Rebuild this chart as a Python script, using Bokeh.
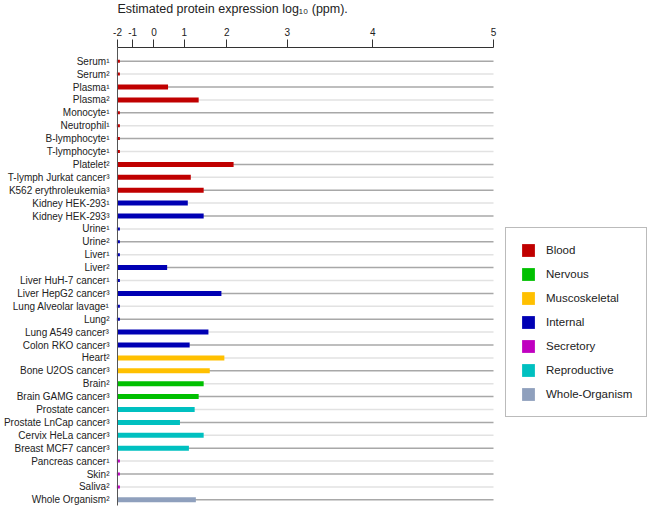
from bokeh.plotting import figure
from bokeh.models import Range1d, FixedTicker, Legend, LegendItem, ColumnDataSource, Label
from bokeh.embed import file_html
from bokeh.resources import INLINE

# ---------------- data ----------------
labels = ["Serum¹", "Serum²", "Plasma¹", "Plasma²", "Monocyte¹", "Neutrophil¹",
          "B-lymphocyte¹", "T-lymphocyte¹", "Platelet²", "T-lymph Jurkat cancer³",
          "K562 erythroleukemia³", "Kidney HEK-293¹", "Kidney HEK-293³", "Urine¹",
          "Urine²", "Liver¹", "Liver²", "Liver HuH-7 cancer¹", "Liver HepG2 cancer³",
          "Lung Alveolar lavage¹", "Lung²", "Lung A549 cancer³", "Colon RKO cancer³",
          "Heart²", "Bone U2OS cancer³", "Brain²", "Brain GAMG cancer³",
          "Prostate cancer¹", "Prostate LnCap cancer³", "Cervix HeLa cancer³",
          "Breast MCF7 cancer³", "Pancreas cancer¹", "Skin²", "Saliva²", "Whole Organism²"]

groups = ["Blood", "Blood", "Blood", "Blood", "Blood", "Blood", "Blood", "Blood", "Blood",
          "Blood", "Blood", "Internal", "Internal", "Internal", "Internal", "Internal",
          "Internal", "Internal", "Internal", "Internal", "Internal", "Internal", "Internal",
          "Muscoskeletal", "Muscoskeletal", "Nervous", "Nervous", "Reproductive",
          "Reproductive", "Reproductive", "Reproductive", "Secretory", "Secretory",
          "Secretory", "Whole-Organism"]

# log10(ppm); -2 = not detected (axis minimum)
values = [-2, -2, 0.51, 1.38, -2, -2, -2, -2, 2.13, 1.18, 1.50, 1.10, 1.50, -2, -2, -2,
          0.48, -2, 1.89, -2, -2, 1.61, 1.15, 1.95, 1.64, 1.50, 1.38, 1.28, 0.88, 1.50,
          1.13, -2, -2, -2, 1.31]

legend_groups = ["Blood", "Nervous", "Muscoskeletal", "Internal", "Secretory",
                 "Reproductive", "Whole-Organism"]
group_colors = ["#c00000", "#00c000", "#ffc000", "#0000b4", "#c000c0", "#00c0c0", "#8fa0bd"]

x_ticks = [-2, -1, 0, 1, 2, 3, 4, 5]
x_min, x_max = -2, 5

title_text = "Estimated protein expression log₁₀ (ppm)."


# the axis of the original is stretched: position grows like sqrt(2)**value
def tr(v):
    return 2.0 ** (v / 2.0)


FONT = "Liberation Sans"
W, H = 648, 508
n = len(labels)
rows = list(range(n))

# the frame covers the whole canvas; axes are pinned inside it.
# data area: x from 117 px (value -2) to 493 px (value 5); rows from 60.7 px, 12.9 px apart
x_lo, x_hi = tr(x_min), tr(x_max)
s = (x_hi - x_lo) / 376.0
row0, row_h = 60.7, 12.9
y_bottom = (H - row0) / row_h
y_top = -row0 / row_h
axis_y = (46.5 - row0) / row_h

p = figure(width=W, height=H, output_backend="svg", toolbar_location=None,
           x_range=Range1d(x_lo - 117 * s, x_hi + 155 * s), y_range=Range1d(y_bottom, y_top),
           x_axis_location="above",
           min_border_left=0, min_border_right=0, min_border_top=0, min_border_bottom=0)

p.xgrid.visible = False
p.ygrid.visible = False
p.outline_line_color = None
p.background_fill_color = "white"
p.border_fill_color = "white"

# top axis
xa = p.xaxis[0]
xa.fixed_location = axis_y
xa.ticker = FixedTicker(ticks=[tr(v) for v in x_ticks])
xa.major_label_overrides = {tr(v): str(v) for v in x_ticks}
xa.bounds = (x_lo, x_hi)
xa.major_tick_out = 8
xa.major_tick_in = 0
xa.minor_tick_line_color = None
xa.major_label_standoff = 3
xa.axis_line_color = "#333333"
xa.major_tick_line_color = "#333333"
xa.major_label_text_font = FONT
xa.major_label_text_font_size = "10px"
xa.major_label_text_color = "#222222"

# left axis (row labels)
ya = p.yaxis[0]
ya.fixed_location = x_lo
ya.bounds = (axis_y, y_bottom - 0.25)
ya.ticker = FixedTicker(ticks=rows)
ya.major_label_overrides = {i: labels[i] for i in rows}
ya.major_tick_line_color = None
ya.minor_tick_line_color = None
ya.major_label_standoff = 2
ya.axis_line_color = "#555555"
ya.major_label_text_font = FONT
ya.major_label_text_font_size = "10px"
ya.major_label_text_color = "#222222"

# title
p.add_layout(Label(x=117, y=H - 8, x_units="screen", y_units="screen", text=title_text,
                   text_font=FONT, text_font_size="12.5px", text_color="#222222",
                   text_align="left", text_baseline="middle"))

# row lines (alternating shade)
p.segment(x0=[x_lo] * n, y0=rows, x1=[x_hi] * n, y1=rows,
          line_color=["#a8a8a8" if i % 2 == 0 else "#e2e2e2" for i in rows], line_width=1.5)

items = []
for g, c in zip(legend_groups, group_colors):
    idx = [i for i in rows if groups[i] == g]
    src = ColumnDataSource(dict(y=idx, right=[tr(values[i]) for i in idx]))
    r = p.hbar(y="y", left=x_lo, right="right", height=0.39, source=src,
               fill_color=c, line_color=None)
    zi = [i for i in idx if values[i] <= x_min]
    if zi:
        p.scatter(x=[tr(values[i]) + 0.012 for i in zi], y=zi, marker="square", size=3,
                  fill_color=c, line_color=None)
    items.append(LegendItem(label=g, renderers=[r]))

legend = Legend(items=items, location=(505, 91), orientation="vertical",
                glyph_width=16, glyph_height=16, label_height=16, label_standoff=10,
                spacing=8, padding=14, margin=0,
                label_text_font=FONT, label_text_font_size="11.5px", label_text_color="#222222",
                border_line_color="#777777", border_line_width=1.5,
                background_fill_color="white", background_fill_alpha=1)
p.add_layout(legend)

open("out.html", "w").write(file_html(p, INLINE))
